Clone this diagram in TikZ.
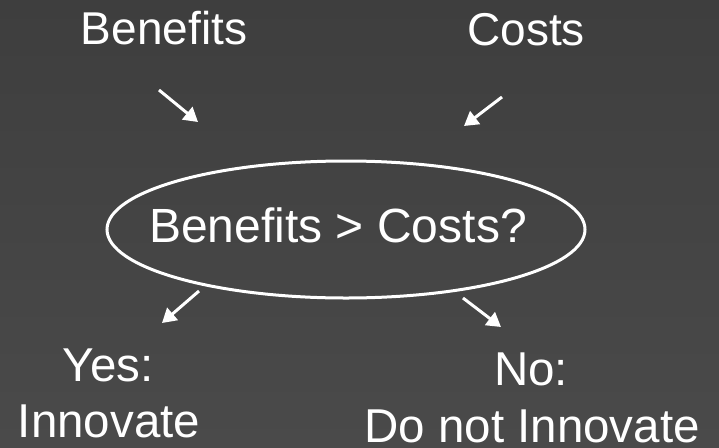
\documentclass[tikz,border=0pt]{standalone}
\usepackage{fontspec}
\setmainfont{Liberation Sans}
\usetikzlibrary{shapes.geometric,arrows.meta}
\definecolor{bgtop}{HTML}{3E3E3E}
\definecolor{bgbot}{HTML}{4A4A4A}
\tikzset{
  lbl/.style={text=white, inner sep=0pt, anchor=base, font=\fontsize{46}{56}\selectfont},
  blbl/.style={text=white, inner sep=0pt, anchor=base, font=\fontsize{47.5}{56}\selectfont},
  qlbl/.style={text=white, inner sep=0pt, anchor=base, font=\fontsize{48}{56}\selectfont},
  arr/.style={draw=white, line width=3pt, -{Triangle[length=14pt,width=16pt]}},
  qbox/.style={ellipse, draw=white, line width=3pt, minimum width=478pt, minimum height=137pt, inner sep=0pt}
}
\begin{document}
\begin{tikzpicture}[x=1pt,y=-1pt]
\shade[top color=bgtop, bottom color=bgbot] (0,0) rectangle (719,447);
\useasboundingbox (0,0) rectangle (719,447);
\node[lbl] (ben) at (164,44) {Benefits};
\node[lbl] (cost) at (526,45) {Costs};
\node[qbox] (q) at (346,229.5) {};
\node[qlbl] (qt) at (338,242) {Benefits > Costs?};
\node[blbl] (yes) at (108,381) {Yes:};
\node[blbl] (yes2) at (109,437) {Innovate};
\node[blbl] (no) at (531,385) {No:};
\node[blbl] (no2) at (532,442) {Do not Innovate};
\coordinate (a1s) at (159,90);  \coordinate (a1e) at (198,122);
\coordinate (a2s) at (502,97);  \coordinate (a2e) at (464,126);
\coordinate (a3s) at (199,291); \coordinate (a3e) at (162,323);
\coordinate (a4s) at (463,298); \coordinate (a4e) at (501,327);
\draw[arr] (a1s) -- (a1e);
\draw[arr] (a2s) -- (a2e);
\draw[arr] (a3s) -- (a3e);
\draw[arr] (a4s) -- (a4e);
\end{tikzpicture}
\end{document}
